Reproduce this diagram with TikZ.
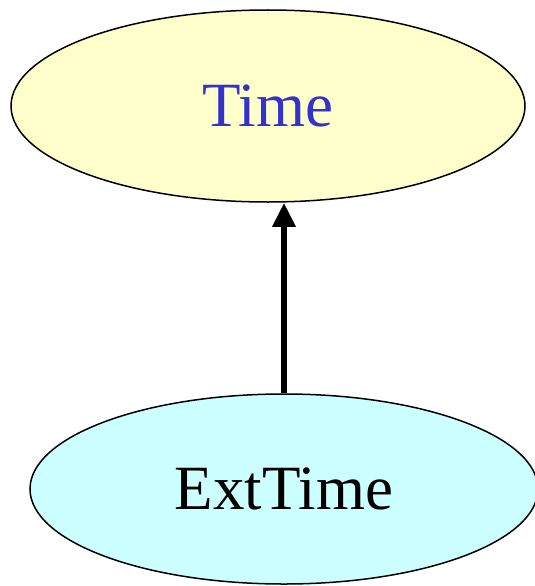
\documentclass[tikz,border=0pt]{standalone}
\usepackage{fontspec}
\setmainfont{Liberation Serif}
\usetikzlibrary{shapes.geometric,arrows.meta}
\definecolor{topfill}{HTML}{FFFFCC}
\definecolor{botfill}{HTML}{CCFFFF}
\definecolor{toptext}{HTML}{3333CC}
\tikzset{
  ell/.style={ellipse, draw=black, line width=1.5pt, inner sep=0pt,
    font=\fontsize{63}{70}\selectfont},
  link/.style={line width=6.5pt, -{Triangle[length=24pt,width=22pt]}}
}
\begin{document}
\begin{tikzpicture}[x=1pt,y=-1pt]
\useasboundingbox (0,0) rectangle (535,586);
\node[ell, fill=topfill, text=toptext, minimum width=514pt, minimum height=192pt] (top) at (268,106) {\raisebox{-3pt}{Time}};
\node[ell, fill=botfill, text=black, minimum width=508pt, minimum height=190pt] (bot) at (284,489) {\raisebox{-3pt}{ExtTime}};
\draw[link] (bot.north) -- (bot.north |- top.south);
\end{tikzpicture}
\end{document}
